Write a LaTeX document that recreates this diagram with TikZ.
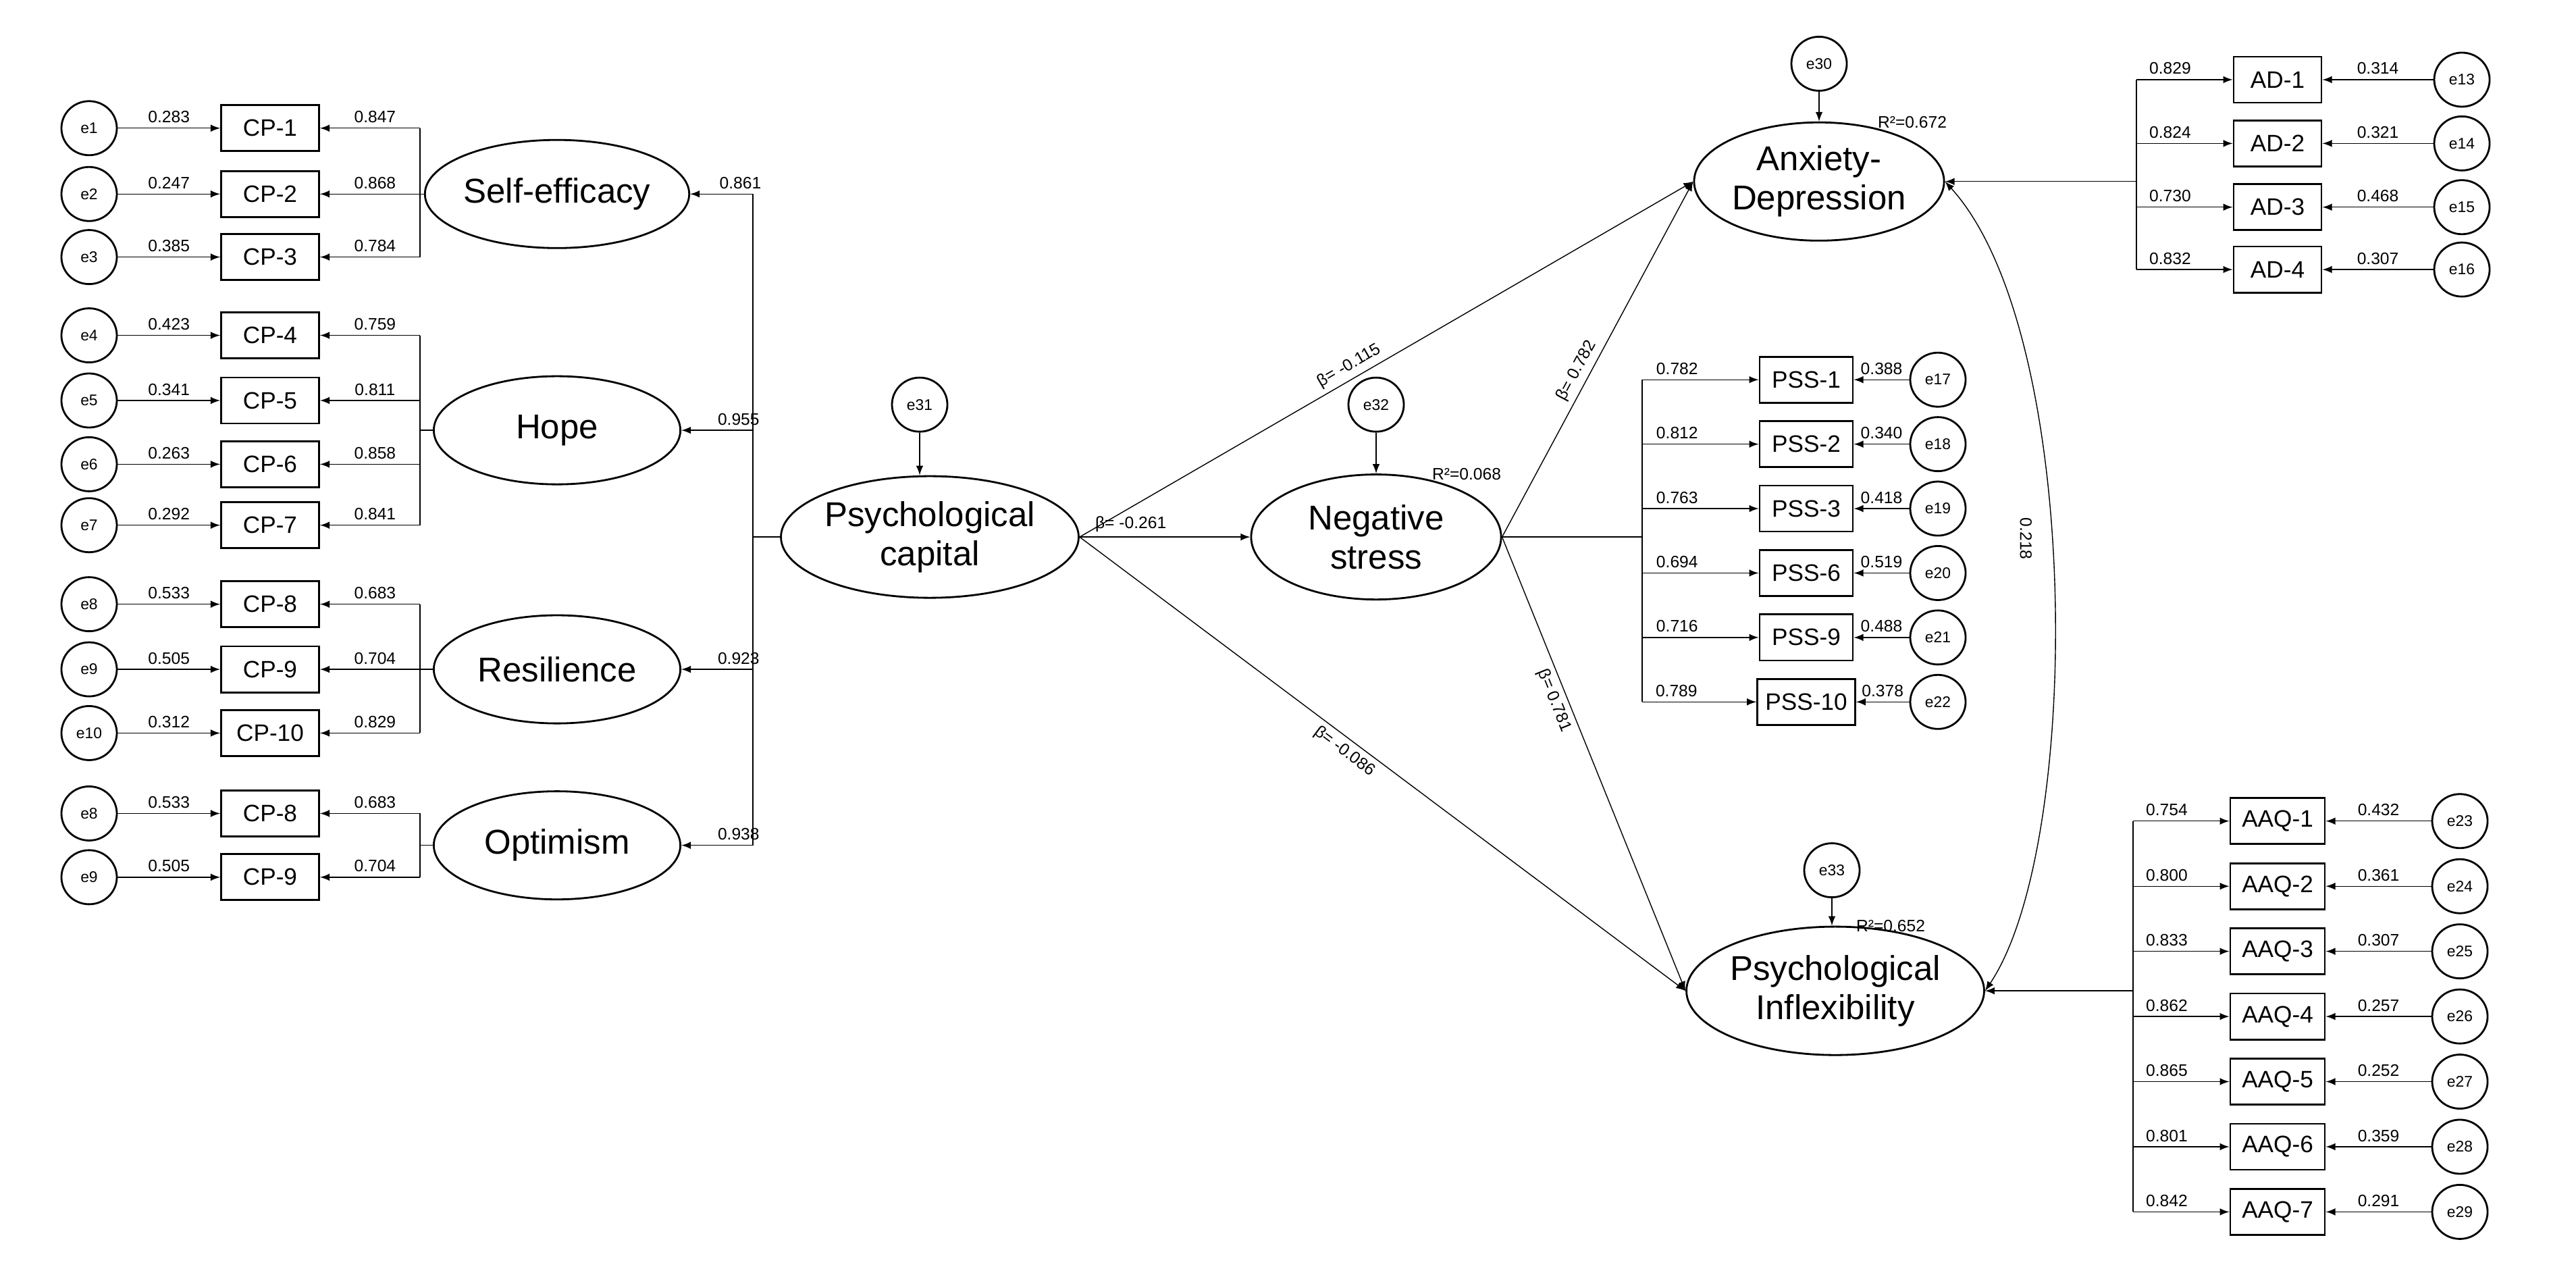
\documentclass[tikz,border=0pt]{standalone}
\usepackage{fontspec}
\setmainfont{Liberation Sans}
\usetikzlibrary{arrows,shapes.geometric,positioning}

\begin{document}
\begin{tikzpicture}[x=0.01cm,y=-0.01025cm,>=latex,
	lat/.style={draw,thick,ellipse,minimum width=3.65cm,minimum height=1.6cm,inner sep=0pt,align=center,font=\fontsize{14.5}{16.5}\selectfont},
	obs/.style={draw,thick,rectangle,minimum width=1.45cm,minimum height=0.68cm,font=\fontsize{10}{12}\selectfont},
	err/.style={draw,thick,ellipse,minimum width=0.82cm,minimum height=0.8cm,inner sep=0pt,font=\fontsize{6.5}{8}\selectfont},
	num/.style={font=\fontsize{7}{8}\selectfont,inner sep=2pt}]
	\useasboundingbox (0,0) rectangle (3815,1831);

	% first-order factors of psychological capital
	\node[lat] (se) at (825,280) {Self-efficacy};
	\node[lat] (ho) at (825,621) {Hope};
	\node[lat] (re) at (825,966) {Resilience};
	\node[lat] (op) at (825,1220) {Optimism};
	\foreach \n/\t/\e/\y/\ev/\lv in {1/CP-1/e1/185/0.283/0.847, 2/CP-2/e2/280/0.247/0.868, 3/CP-3/e3/371/0.385/0.784,
		4/CP-4/e4/484/0.423/0.759, 5/CP-5/e5/578/0.341/0.811, 6/CP-6/e6/670/0.263/0.858, 7/CP-7/e7/758/0.292/0.841,
		8/CP-8/e8/872/0.533/0.683, 9/CP-9/e9/966/0.505/0.704, 10/CP-10/e10/1058/0.312/0.829,
		11/CP-8/e8/1174/0.533/0.683, 12/CP-9/e9/1266/0.505/0.704}{
		\node[obs] (cp\n) at (400,\y) {\t};
		\node[err] (ecp\n) at (132,\y) {\e};
		\draw[->] (ecp\n) -- (cp\n) node[num,midway,above] {\ev};
		\draw[->] (622,\y) -- (cp\n.east) node[num,pos=0.45,above] {\lv};
	}
	\foreach \g/\t/\b in {se/185/371, ho/484/758, re/872/1058, op/1174/1266}{
		\draw (622,\t) -- (622,\b);
		\draw (\g.west) -- (\g.west -| 622,0);
	}

	% second-order factor
	\node[lat,minimum width=3.75cm,minimum height=1.8cm] (pc) at (1377,775) {Psychological\\capital};
	\node[err] (e31) at (1362,584) {e31};
	\draw[->] (e31) -- (e31 |- pc.north);
	\draw (1115,280) -- (1115,1220);
	\draw (pc.west) -- (1115,775);
	\foreach \g/\v in {se/0.861, ho/0.955, re/0.923, op/0.938}
		\draw[->] (1115,0 |- \g.east) -- (\g.east) node[num,pos=0.2,above] {\v};

	% negative stress
	\node[lat,minimum width=3.7cm,minimum height=1.85cm] (ns) at (2038,775) {Negative\\stress};
	\node[err] (e32) at (2038,584) {e32};
	\draw[->] (e32) -- (ns.north);
	\node[num] at (2172,684) {R²=0.068};
	\foreach \n/\t/\e/\y/\ev/\lv in {1/PSS-1/e17/548/0.388/0.782, 2/PSS-2/e18/641/0.340/0.812, 3/PSS-3/e19/734/0.418/0.763,
		4/PSS-6/e20/827/0.519/0.694, 5/PSS-9/e21/920/0.488/0.716, 6/PSS-10/e22/1013/0.378/0.789}{
		\node[obs,minimum width=1.38cm] (pss\n) at (2675,\y) {\t};
		\node[err] (epss\n) at (2870,\y) {\e};
		\draw[->] (epss\n) -- (pss\n) node[num,midway,above] {\ev};
		\draw[->] (2432,\y) -- (pss\n.west) node[num,pos=0.3,above] {\lv};
	}
	\draw (2432,548) -- (2432,1013);
	\draw (ns.east) -- (2432,775);

	% anxiety-depression
	\node[lat,minimum width=3.7cm,minimum height=1.75cm] (ad) at (2694,262) {Anxiety-\\Depression};
	\node[err] (e30) at (2694,92) {e30};
	\draw[->] (e30) -- (ad.north);
	\node[num] at (2832,176) {R²=0.672};
	\foreach \n/\t/\e/\y/\ev/\lv in {1/AD-1/e13/115/0.314/0.829, 2/AD-2/e14/207/0.321/0.824,
		3/AD-3/e15/299/0.468/0.730, 4/AD-4/e16/389/0.307/0.832}{
		\node[obs,minimum width=1.3cm] (ad\n) at (3373,\y) {\t};
		\node[err] (ead\n) at (3646,\y) {\e};
		\draw[->] (ead\n) -- (ad\n) node[num,midway,above] {\ev};
		\draw[->] (3164,\y) -- (ad\n.west) node[num,pos=0.35,above] {\lv};
	}
	\draw (3164,115) -- (3164,389);
	\draw[->] (3164,262) -- (ad.east);

	% psychological inflexibility
	\node[lat,minimum width=3.8cm,minimum height=1.9cm] (pi) at (2718,1430) {Psychological\\Inflexibility};
	\node[err] (e33) at (2713,1256) {e33};
	\draw[->] (e33) -- (e33 |- pi.north);
	\node[num] at (2800,1336) {R²=0.652};
	\foreach \n/\t/\e/\y/\ev/\lv in {1/AAQ-1/e23/1185/0.432/0.754, 2/AAQ-2/e24/1279/0.361/0.800, 3/AAQ-3/e25/1373/0.307/0.833,
		4/AAQ-4/e26/1467/0.257/0.862, 5/AAQ-5/e27/1561/0.252/0.865, 6/AAQ-6/e28/1655/0.359/0.801, 7/AAQ-7/e29/1749/0.291/0.842}{
		\node[obs,minimum width=1.4cm] (aaq\n) at (3373,\y) {\t};
		\node[err] (eaaq\n) at (3643,\y) {\e};
		\draw[->] (eaaq\n) -- (aaq\n) node[num,midway,above] {\ev};
		\draw[->] (3159,\y) -- (aaq\n.west) node[num,pos=0.35,above] {\lv};
	}
	\draw (3159,1185) -- (3159,1749);
	\draw[->] (3159,1430) -- (pi.east);

	% structural paths
	\draw[->] (pc.east) -- (ns.west) node[num,pos=0.3,above] {β= -0.261};
	\draw[->] (pc.east) -- (ad.west) node[num,pos=0.45,sloped,above] {β= -0.115};
	\draw[->] (pc.east) -- (pi.west) node[num,pos=0.45,sloped,below] {β= -0.086};
	\draw[->] (ns.east) -- (ad.west) node[num,pos=0.45,sloped,above] {β= 0.782};
	\draw[->] (ns.east) -- (pi.west) node[num,pos=0.35,sloped,below] {β= 0.781};
	\draw[<->] (ad.east) .. controls (3085,480) and (3085,1220) .. (pi.east)
		node[num,pos=0.45,rotate=-90,anchor=north,inner sep=8pt] {0.218};
\end{tikzpicture}
\end{document}
